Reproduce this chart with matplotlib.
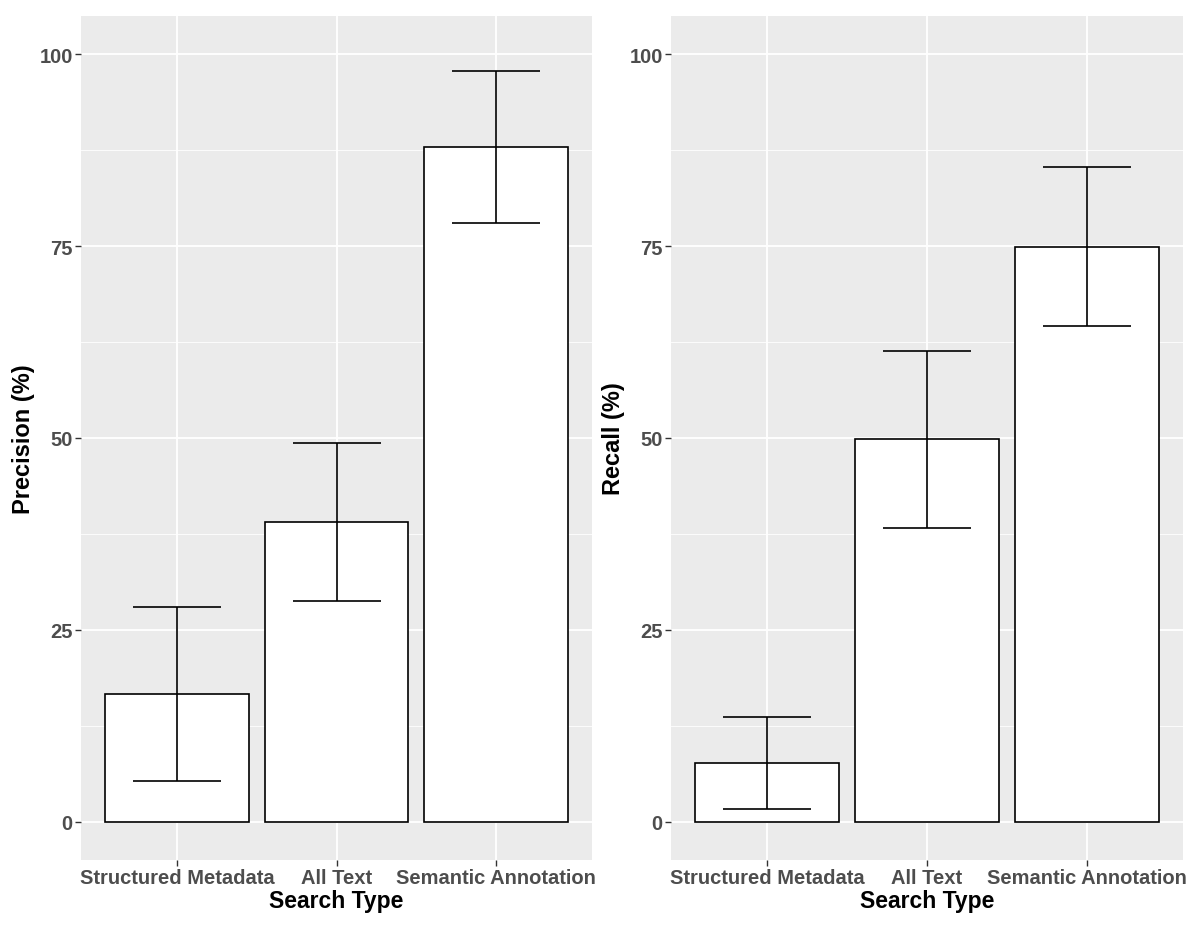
import matplotlib.pyplot as plt
import numpy as np

categories = ['Structured Metadata', 'All Text', 'Semantic Annotation']
precision = [16.7, 39.1, 87.9]
precision_low = [5.3, 28.7, 78.0]
precision_high = [28.0, 49.3, 97.8]
recall = [7.6, 49.9, 74.9]
recall_low = [1.6, 38.3, 64.6]
recall_high = [13.7, 61.3, 85.3]

plt.rcParams['font.family'] = ['Liberation Sans', 'DejaVu Sans']

fig = plt.figure(figsize=(12, 9.28), dpi=100)
W, H = 1200, 928


def panel(left, right, vals, low, high, ylabel):
    ax = fig.add_axes([left / W, 1 - 861 / H, (right - left) / W, (861 - 17) / H])
    ax.set_facecolor('#EBEBEB')
    x = np.arange(len(categories))
    ax.set_xlim(-0.6, len(categories) - 0.4)
    ax.set_ylim(-5, 105)
    ax.set_yticks([0, 25, 50, 75, 100])
    ax.set_yticks([12.5, 37.5, 62.5, 87.5], minor=True)
    ax.set_xticks(x)
    ax.set_xticklabels(categories)
    ax.grid(which='major', color='white', linewidth=1.3)
    ax.grid(which='minor', axis='y', color='white', linewidth=0.6)
    ax.tick_params(which='minor', length=0)
    ax.tick_params(which='major', length=4, width=1, color='#333333',
                   labelsize=14.5, labelcolor='#4D4D4D', pad=2)
    for lab in ax.get_xticklabels() + ax.get_yticklabels():
        lab.set_fontweight('bold')
    ax.set_axisbelow(True)
    for s in ax.spines.values():
        s.set_visible(False)
    ax.bar(x, vals, width=0.9, color='white', edgecolor='black', linewidth=1.2, zorder=2)
    err = [np.array(vals) - np.array(low), np.array(high) - np.array(vals)]
    ax.errorbar(x, vals, yerr=err, fmt='none', ecolor='black', elinewidth=1.2,
                capsize=31.5, capthick=1.2, zorder=3)
    ax.set_xlabel('Search Type', fontsize=16.5, fontweight='bold', labelpad=1)
    ax.set_ylabel(ylabel, fontsize=17, fontweight='bold', labelpad=3)
    return ax


panel(81, 592, precision, precision_low, precision_high, 'Precision (%)')
panel(671, 1183, recall, recall_low, recall_high, 'Recall (%)')

fig.savefig('out.png', dpi=100)
